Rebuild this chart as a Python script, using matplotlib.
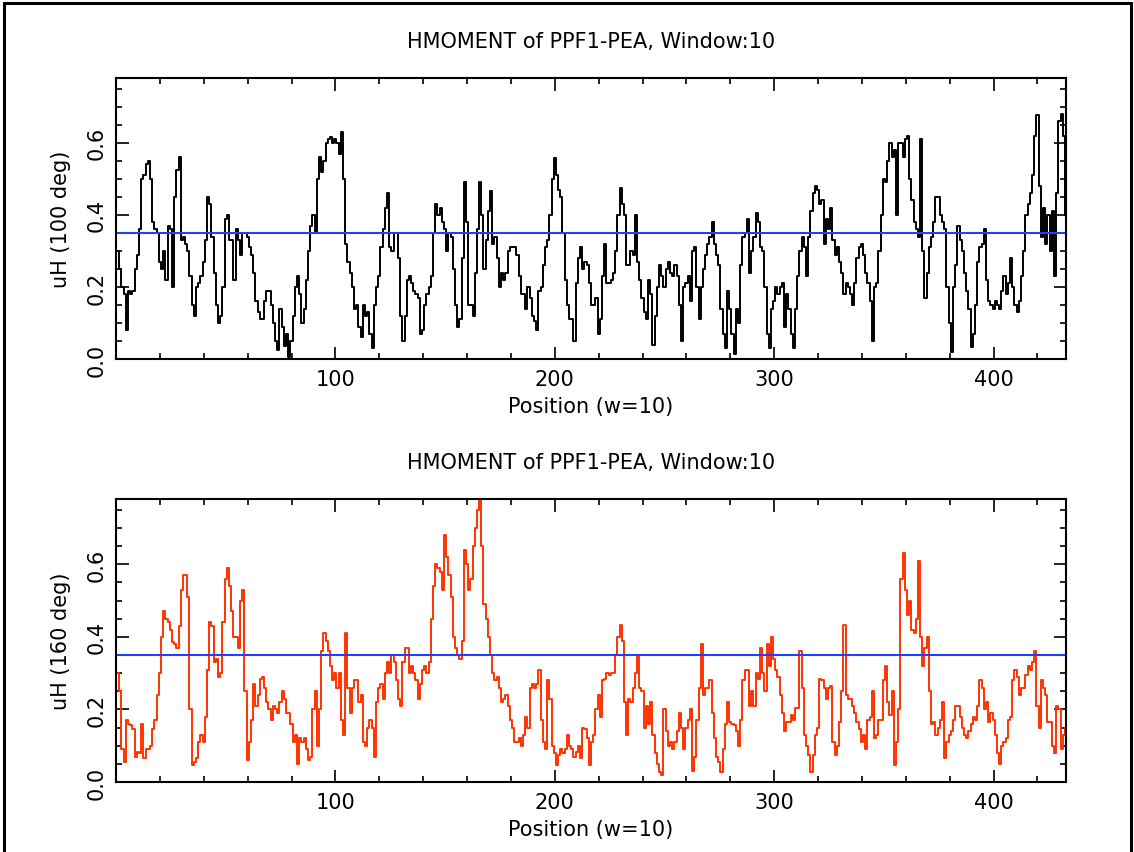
import numpy as np
import matplotlib
matplotlib.use("Agg")
import matplotlib.pyplot as plt
from matplotlib.patches import Rectangle
from matplotlib.ticker import MultipleLocator

# ---------------- data ----------------
title = "HMOMENT of PPF1-PEA, Window:10"
xlabel = "Position (w=10)"
ylabel_top = "uH (100 deg)"
ylabel_bottom = "uH (160 deg)"
threshold = 0.35

hm100 = [
    0.30,0.25,0.20,0.18,0.08,0.19,0.18,0.19,0.25,0.29,
    0.36,0.50,0.51,0.54,0.55,0.50,0.38,0.36,0.35,0.27,
    0.25,0.30,0.22,0.37,0.36,0.20,0.45,0.525,0.56,0.33,
    0.34,0.32,0.30,0.23,0.15,0.12,0.20,0.21,0.23,0.27,
    0.33,0.45,0.43,0.34,0.24,0.15,0.10,0.12,0.20,0.39,
    0.40,0.33,0.33,0.22,0.36,0.33,0.29,0.35,0.35,0.34,
    0.31,0.29,0.24,0.16,0.13,0.11,0.11,0.16,0.19,0.19,
    0.15,0.10,0.05,0.025,0.14,0.09,0.035,0.07,0.005,0.05,
    0.12,0.20,0.23,0.18,0.10,0.14,0.22,0.30,0.37,0.40,
    0.35,0.50,0.56,0.52,0.55,0.60,0.61,0.615,0.60,0.61,
    0.60,0.57,0.63,0.50,0.32,0.27,0.24,0.20,0.14,0.15,
    0.09,0.06,0.15,0.12,0.13,0.07,0.03,0.15,0.20,0.23,
    0.31,0.36,0.42,0.46,0.31,0.30,0.35,0.35,0.28,0.12,
    0.05,0.12,0.22,0.23,0.21,0.19,0.18,0.17,0.07,0.08,
    0.15,0.18,0.20,0.23,0.35,0.43,0.40,0.42,0.38,0.36,
    0.30,0.35,0.34,0.25,0.15,0.09,0.11,0.28,0.49,0.38,
    0.15,0.15,0.12,0.24,0.36,0.49,0.40,0.25,0.33,0.41,
    0.466,0.32,0.34,0.28,0.20,0.24,0.22,0.24,0.30,0.31,
    0.31,0.31,0.29,0.23,0.18,0.18,0.14,0.20,0.17,0.12,
    0.105,0.08,0.19,0.20,0.26,0.31,0.33,0.40,0.50,0.557,
    0.51,0.47,0.45,0.35,0.22,0.15,0.11,0.11,0.05,0.21,
    0.28,0.31,0.25,0.27,0.26,0.21,0.15,0.15,0.17,0.07,
    0.11,0.23,0.32,0.21,0.21,0.22,0.24,0.30,0.40,0.475,
    0.43,0.40,0.26,0.26,0.30,0.29,0.40,0.27,0.22,0.17,
    0.13,0.11,0.22,0.18,0.04,0.12,0.20,0.26,0.23,0.20,
    0.25,0.27,0.24,0.23,0.26,0.23,0.15,0.05,0.20,0.21,
    0.23,0.16,0.30,0.31,0.20,0.11,0.20,0.25,0.29,0.32,
    0.34,0.38,0.32,0.29,0.26,0.14,0.07,0.03,0.19,0.14,
    0.07,0.015,0.14,0.10,0.26,0.34,0.35,0.39,0.24,0.30,
    0.34,0.405,0.38,0.31,0.30,0.20,0.07,0.03,0.14,0.16,
    0.20,0.18,0.20,0.21,0.09,0.18,0.14,0.07,0.03,0.14,
    0.23,0.30,0.34,0.31,0.23,0.34,0.41,0.46,0.48,0.47,
    0.43,0.44,0.32,0.39,0.36,0.42,0.33,0.29,0.31,0.27,
    0.24,0.18,0.21,0.20,0.18,0.15,0.21,0.28,0.31,0.32,
    0.29,0.24,0.21,0.16,0.05,0.20,0.21,0.30,0.40,0.50,
    0.49,0.55,0.60,0.56,0.58,0.40,0.60,0.60,0.56,0.61,
    0.62,0.50,0.44,0.38,0.36,0.34,0.612,0.30,0.17,0.24,
    0.31,0.34,0.38,0.45,0.45,0.40,0.38,0.36,0.20,0.10,
    0.02,0.20,0.26,0.37,0.33,0.30,0.24,0.19,0.14,0.032,
    0.07,0.15,0.27,0.31,0.32,0.36,0.22,0.16,0.15,0.14,
    0.16,0.15,0.14,0.19,0.23,0.18,0.21,0.28,0.20,0.15,
    0.13,0.16,0.23,0.30,0.40,0.43,0.46,0.51,0.62,0.676,
    0.48,0.34,0.42,0.32,0.40,0.30,0.41,0.23,0.46,0.66,
    0.68,0.62,0.40,
]

hm160 = [
    0.30,0.25,0.09,0.055,0.17,0.16,0.157,0.147,0.07,0.083,
    0.08,0.16,0.065,0.09,0.092,0.10,0.147,0.17,0.24,0.30,
    0.40,0.47,0.45,0.44,0.42,0.387,0.38,0.37,0.43,0.53,
    0.571,0.57,0.51,0.20,0.046,0.055,0.065,0.11,0.13,0.11,
    0.18,0.31,0.44,0.43,0.33,0.34,0.29,0.30,0.44,0.56,
    0.59,0.54,0.47,0.40,0.40,0.37,0.50,0.53,0.25,0.06,
    0.11,0.17,0.27,0.21,0.24,0.285,0.29,0.26,0.22,0.20,
    0.17,0.21,0.20,0.19,0.22,0.25,0.23,0.19,0.19,0.16,
    0.11,0.13,0.05,0.12,0.11,0.12,0.09,0.06,0.07,0.20,
    0.25,0.10,0.20,0.36,0.41,0.39,0.36,0.32,0.28,0.30,
    0.26,0.30,0.17,0.13,0.41,0.26,0.19,0.26,0.28,0.28,
    0.22,0.24,0.11,0.10,0.15,0.17,0.15,0.07,0.22,0.26,
    0.27,0.23,0.30,0.33,0.30,0.35,0.33,0.28,0.23,0.21,
    0.33,0.37,0.37,0.30,0.32,0.30,0.28,0.23,0.27,0.31,
    0.32,0.30,0.33,0.45,0.54,0.60,0.59,0.58,0.53,0.68,
    0.62,0.57,0.51,0.40,0.37,0.35,0.34,0.39,0.64,0.60,
    0.53,0.56,0.65,0.70,0.75,0.78,0.65,0.49,0.45,0.40,
    0.35,0.30,0.28,0.29,0.26,0.22,0.23,0.24,0.21,0.17,
    0.15,0.11,0.11,0.12,0.10,0.13,0.18,0.15,0.26,0.27,
    0.26,0.27,0.31,0.17,0.11,0.09,0.28,0.23,0.10,0.08,
    0.046,0.074,0.09,0.08,0.09,0.13,0.10,0.09,0.07,0.083,
    0.10,0.065,0.15,0.147,0.12,0.046,0.11,0.13,0.20,0.24,
    0.18,0.28,0.285,0.30,0.295,0.30,0.30,0.35,0.40,0.433,
    0.39,0.22,0.13,0.23,0.22,0.26,0.30,0.35,0.26,0.25,
    0.15,0.21,0.16,0.22,0.13,0.08,0.05,0.028,0.02,0.20,
    0.14,0.10,0.11,0.09,0.11,0.14,0.19,0.15,0.09,0.15,
    0.17,0.20,0.03,0.07,0.17,0.26,0.38,0.24,0.26,0.26,
    0.28,0.19,0.12,0.07,0.055,0.028,0.09,0.16,0.22,0.166,
    0.16,0.157,0.14,0.10,0.17,0.28,0.31,0.31,0.21,0.25,
    0.21,0.30,0.285,0.37,0.30,0.25,0.38,0.32,0.40,0.34,
    0.31,0.29,0.24,0.19,0.14,0.166,0.166,0.184,0.17,0.203,
    0.203,0.36,0.26,0.13,0.10,0.074,0.028,0.074,0.13,0.15,
    0.285,0.28,0.26,0.23,0.26,0.265,0.11,0.074,0.10,0.166,
    0.25,0.433,0.24,0.23,0.23,0.21,0.19,0.166,0.147,0.11,
    0.13,0.09,0.17,0.18,0.25,0.12,0.13,0.17,0.17,0.28,
    0.32,0.22,0.184,0.25,0.046,0.11,0.20,0.56,0.63,0.53,
    0.46,0.50,0.42,0.41,0.45,0.61,0.40,0.32,0.37,0.40,
    0.25,0.16,0.166,0.13,0.15,0.17,0.22,0.065,0.11,0.13,
    0.14,0.17,0.21,0.21,0.18,0.15,0.13,0.12,0.14,0.16,
    0.18,0.17,0.21,0.28,0.26,0.20,0.22,0.166,0.19,0.17,
    0.13,0.08,0.05,0.10,0.11,0.12,0.17,0.18,0.28,0.31,
    0.29,0.24,0.26,0.26,0.295,0.32,0.31,0.33,0.36,0.21,
    0.15,0.28,0.26,0.24,0.166,0.166,0.10,0.08,0.21,0.20,
    0.09,0.13,0.15,
]

positions = np.arange(1, len(hm100) + 1)

xticks = [100, 200, 300, 400]
yticks = [0.0, 0.2, 0.4, 0.6]
ytick_labels = ["0.0", "0.2", "0.4", "0.6"]

# ---------------- figure ----------------
W, H = 1134, 853
fig = plt.figure(figsize=(W / 100, H / 100), dpi=100)
plt.rcParams['font.family'] = ['DejaVu Sans']

FS = 15
BLUE = '#2040ff'

def px_axes(left, top, right, bottom):
    return [left / W, 1 - bottom / H, (right - left) / W, (bottom - top) / H]

panels = [
    (px_axes(116, 79, 1066, 360), hm100, 'black', ylabel_top),
    (px_axes(116, 500, 1066, 783), hm160, '#ff3300', ylabel_bottom),
]

for rect, vals, col, ylab in panels:
    ax = fig.add_axes(rect)
    ax.plot(positions, vals, color=col, lw=1.4, drawstyle='steps-mid')
    ax.axhline(threshold, color=BLUE, lw=1.5)
    ax.set_xlim(0, 433)
    ax.set_ylim(0, 0.78)
    ax.set_xticks(xticks)
    ax.xaxis.set_minor_locator(MultipleLocator(20))
    ax.set_yticks(yticks)
    ax.set_yticklabels(ytick_labels)
    ax.yaxis.set_minor_locator(MultipleLocator(0.05))
    ax.tick_params(which='both', direction='in', top=True, right=True,
                   width=1.2, color='black', labelsize=FS)
    ax.tick_params(which='major', length=9)
    ax.tick_params(which='minor', length=4.5)
    ax.tick_params(axis='x', pad=7)
    ax.tick_params(axis='y', pad=7, labelrotation=90)
    for lab in ax.get_yticklabels():
        lab.set_va('center')
    for sp in ax.spines.values():
        sp.set_linewidth(1.5)
    ax.set_title(title, fontsize=FS, pad=22)
    ax.set_xlabel(xlabel, fontsize=FS, labelpad=5)
    ax.set_ylabel(ylab, fontsize=FS, labelpad=11)

# outer frame of the picture
fig.patches.append(Rectangle((3.5 / W, -0.05), (1131 - 3.5) / W, 1.05 - 3.5 / H,
                             transform=fig.transFigure, fill=False,
                             edgecolor='black', lw=2.2))

fig.savefig("out.png", dpi=100)
